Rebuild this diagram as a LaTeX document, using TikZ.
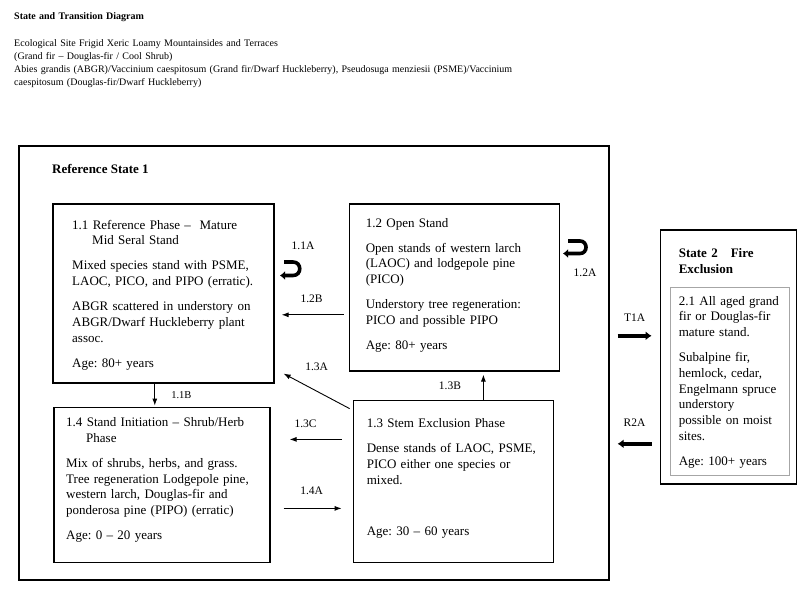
\documentclass[tikz,border=0pt]{standalone}
\usepackage{fontspec}
\setmainfont{Liberation Serif}
\usepackage{tikz}
\usetikzlibrary{positioning}
\usetikzlibrary{arrows.meta}
\frenchspacing
\tikzstyle{statebox}=[draw,rectangle,line width=1.6pt,inner sep=0pt,anchor=north west]
\tikzstyle{phase}=[draw,rectangle,line width=1.6pt,inner sep=0pt,anchor=north west]
\tikzstyle{phasetext}=[font=\fontsize{13}{15.7}\selectfont,align=left,text width=205pt,inner sep=0pt,anchor=base west]
\tikzstyle{headtext}=[font=\fontsize{10}{13.3}\selectfont,align=left,text width=560pt,inner sep=0pt,anchor=base west]
\tikzstyle{translabel}=[font=\fontsize{11.5}{13}\selectfont,inner sep=0pt]
\newcommand{\ParGap}{\\[9.5pt]}

\begin{document}
\begin{tikzpicture}[x=1pt,y=-1pt]

	\tikzstyle{arrow}=[-{Latex[length=7pt,width=5pt]},line width=0.9pt];
	\tikzstyle{bigarrow}=[-{Latex[length=6pt,width=9pt]},line width=3.6pt];
	\tikzstyle{uturn}=[-{Latex[length=5pt,width=9pt]},line width=3.6pt];

	\useasboundingbox (0,0) rectangle (800,597);

	\node (title) [headtext,font=\fontsize{10}{13.3}\selectfont\bfseries] at (14,19.5) {State and Transition Diagram};
	\node (site) [headtext] at (14,46) {Ecological Site Frigid Xeric Loamy Mountainsides and Terraces\\(Grand fir – Douglas-fir / Cool Shrub)\\Abies grandis (ABGR)/Vaccinium caespitosum (Grand fir/Dwarf Huckleberry), Pseudosuga menziesii (PSME)/Vaccinium\\caespitosum (Douglas-fir/Dwarf Huckleberry)};

	\node (refstate) [statebox,minimum width=590pt,minimum height=434pt] at (18,145) {};
	\node (refname) [below right=28pt and 34pt of refstate.north west,anchor=base west,inner sep=0pt,font=\fontsize{13}{15.7}\selectfont\bfseries] {Reference State 1};

	\node (box11) [phase,minimum width=221pt,minimum height=179pt] at (52,203) {};
	\node (box12) [phase,right=74pt of box11.north east,anchor=north west,minimum width=210pt,minimum height=167pt] {};
	\node (box14) [phase,below=23pt of box11.south west,anchor=north west,xshift=1pt,minimum width=216pt,minimum height=155pt] {};
	\node (box13) [phase,below=28pt of box12.south west,anchor=north west,xshift=4pt,minimum width=200pt,minimum height=162pt] {};

	\node (state2) [statebox,right=50pt of refstate.north east,anchor=north west,yshift=-84pt,minimum width=136pt,minimum height=254pt] {};
	\node (box21) [phase,draw=gray!70,line width=0.8pt,below right=58pt and 10pt of state2.north west,anchor=north west,minimum width=119pt,minimum height=188pt] {};

	\node (txt11) [phasetext,below right=26pt and 20pt of box11.north west,anchor=base west] {1.1 Reference Phase –\ \ Mature\\\hspace*{20pt}Mid Seral Stand\ParGap Mixed species stand with PSME,\\LAOC, PICO, and PIPO (erratic).\ParGap ABGR scattered in understory on\\ABGR/Dwarf Huckleberry plant\\assoc.\ParGap Age: 80+ years};
	\node (txt12) [phasetext,below right=24pt and 17pt of box12.north west,anchor=base west] {1.2 Open Stand\ParGap Open stands of western larch\\(LAOC) and lodgepole pine\\(PICO)\ParGap Understory tree regeneration:\\PICO and possible PIPO\ParGap Age: 80+ years};
	\node (txt13) [phasetext,below right=28pt and 14pt of box13.north west,anchor=base west] {1.3 Stem Exclusion Phase\ParGap Dense stands of LAOC, PSME,\\PICO either one species or\\mixed.\\[36pt]Age: 30 – 60 years};
	\node (txt14) [phasetext,below right=20pt and 13pt of box14.north west,anchor=base west] {1.4 Stand Initiation – Shrub/Herb\\\hspace*{20pt}Phase\ParGap Mix of shrubs, herbs, and grass.\\Tree regeneration Lodgepole pine,\\western larch, Douglas-fir and\\ponderosa pine (PIPO) (erratic)\ParGap Age: 0 – 20 years};

	\node (head2) [below right=28pt and 19pt of state2.north west,anchor=base west,inner sep=0pt,align=left,text width=110pt,font=\fontsize{13}{16.5}\selectfont\bfseries] {State 2\ \ \ Fire\\Exclusion};
	\node (txt21) [phasetext,below right=18pt and 9pt of box21.north west,anchor=base west] {2.1 All aged grand\\fir or Douglas-fir\\mature stand.\ParGap Subalpine fir,\\hemlock, cedar,\\Engelmann spruce\\understory\\possible on moist\\sites.\ParGap Age: 100+ years};

	% transitions inside reference state
	\path[arrow]
		([yshift=-27.5pt]box12.west) edge[shorten <=5pt,shorten >=7pt] node (lab12B) [translabel,above=12pt] {1.2B} ([yshift=-27.5pt]box12.west -| box11.east)
		([shift={(-3pt,-9pt)}]box13.north west) edge node (lab13A) [translabel,above=20pt] {1.3A} ([shift={(9pt,10pt)}]box11.south east)
		([xshift=30pt]box13.north) edge[shorten >=3pt] node (lab13B) [translabel,left=22pt] {1.3B} ([xshift=30pt]box13.north |- box12.south)
		([xshift=-8.5pt]box11.south) edge[shorten >=1pt] node (lab11B) [translabel,font=\fontsize{10.5}{12}\selectfont,right=16pt] {1.1B} ([xshift=-8.5pt]box11.south |- box14.north)
		([yshift=42pt]box13.west) edge[shorten <=11pt,shorten >=19pt] node (lab13C) [translabel,above=11pt,xshift=-6pt] {1.3C} ([yshift=42pt]box13.west -| box14.east)
		([yshift=-27pt]box13.west -| box14.east) edge[shorten <=13pt,shorten >=11pt] node (lab14A) [translabel,above=13pt] {1.4A} ([yshift=-27pt]box13.west);

	% transitions between states
	\path[bigarrow]
		([yshift=27pt]refstate.east) edge[shorten <=8pt,shorten >=8pt] node (labT1A) [translabel,above=13pt] {T1A} ([yshift=27pt]refstate.east -| state2.west)
		([yshift=-81pt]refstate.east -| state2.west) edge[shorten <=8pt,shorten >=8pt] node (labR2A) [translabel,above=16pt] {R2A} ([yshift=-81pt]refstate.east);

	% self transitions
	\coordinate (turn11) at (284,262);
	\coordinate (turn12) at (568,241);
	\draw[uturn] (turn11) -- (293,262) .. controls (302,262) and (302,275.5) .. (293,275.5) -- (280,275.5);
	\draw[uturn] (turn12) -- (580,241) .. controls (588,241) and (588,253.5) .. (580,253.5) -- (563,253.5);
	\node (lab11A) [translabel] at (303,246) {1.1A};
	\node (lab12A) [translabel] at (585,273) {1.2A};
\end{tikzpicture}
\end{document}
